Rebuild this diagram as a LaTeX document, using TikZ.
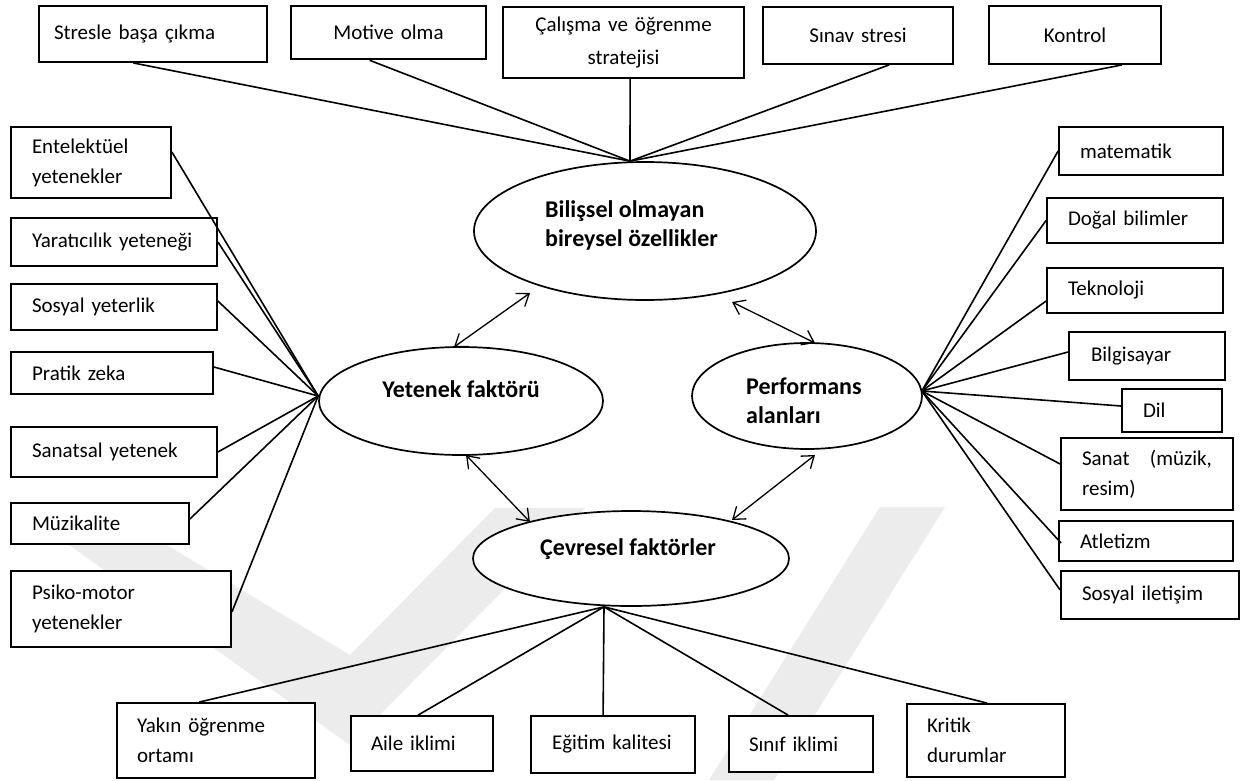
\documentclass[tikz,border=0pt]{standalone}
\usepackage{fontspec}
\setmainfont{Carlito}
\usetikzlibrary{arrows.meta,calc,shapes.geometric}
\definecolor{wm}{RGB}{236,236,236}

\begin{document}
\begin{tikzpicture}[x=1pt,y=-1pt,
  tb/.style={draw, line width=1.8pt, fill=white, rectangle, inner sep=0pt,
    align=left, font=\fontsize{21}{30}\selectfont},
  tbc/.style={tb, align=center},
  ell/.style={draw, ellipse, line width=1.7pt, fill=white, inner sep=0pt},
  lbl/.style={inner sep=0pt, align=left, font=\bfseries\fontsize{24}{29}\selectfont},
  link/.style={line width=1.6pt},
  both/.style={line width=1.3pt, {Straight Barb[length=11pt,width=16pt]}-{Straight Barb[length=11pt,width=16pt]}}
]
\useasboundingbox (0,0) rectangle (1251,780);
\fill[white] (0,0) rectangle (1251,780);

% faint background emblem
\fill[wm] (55,535) -- (150,535) -- (350,655) -- (495,508) -- (585,508) -- (350,745) -- cycle;
\fill[wm] (880,507) -- (945,507) -- (774,780) -- (709,780) -- cycle;

% central ellipses
\node[ell, minimum width=342pt, minimum height=138pt] (bil) at (645,231) {};
\node[ell, minimum width=284pt, minimum height=108pt] (yet) at (461,401) {};
\node[ell, minimum width=230pt, minimum height=106pt] (perf) at (807,396) {};
\node[ell, minimum width=316pt, minimum height=95pt] (cev) at (631,558.5) {};

\node[lbl, anchor=west] (bilt) at (545,225) {Bilişsel olmayan\\bireysel özellikler};
\node[lbl] (yett) at (461,389) {Yetenek faktörü};
\node[lbl, anchor=west] (perft) at (746,401) {Performans\\alanları};
\node[lbl] (cevt) at (628,549) {Çevresel faktörler};

% top row
\node[tb, minimum width=228pt, minimum height=56pt, text width=198pt] (stres) at (153,34) {\mbox{Stresle başa çıkma}};
\node[tbc, line width=2.6pt, minimum width=195pt, minimum height=53pt, text width=180pt] (motive) at (388.5,32.5) {Motive olma};
\node[tbc, minimum width=241pt, minimum height=71pt, text width=230pt, font=\fontsize{21}{33}\selectfont] (calisma) at (623.5,42.5) {Çalışma ve öğrenme\\stratejisi};
\node[tbc, minimum width=190pt, minimum height=57pt, text width=176pt] (sinav) at (858,35.5) {Sınav stresi};
\node[tbc, minimum width=172pt, minimum height=58pt, text width=160pt] (kontrol) at (1075,35) {Kontrol};

% left column
\node[tb, minimum width=160pt, minimum height=71pt, text width=118pt] (entel) at (91,162.5) {Entelektüel\\yetenekler};
\node[tb, minimum width=206pt, minimum height=48pt, text width=164pt] (yarat) at (114,242) {\mbox{Yaratıcılık yeteneği}};
\node[tb, minimum width=206pt, minimum height=46pt, text width=164pt] (sosyal) at (114,307) {\mbox{Sosyal yeterlik}};
\node[tb, minimum width=202pt, minimum height=42pt, text width=160pt] (pratik) at (112,373) {\mbox{Pratik zeka}};
\node[tb, minimum width=206pt, minimum height=50pt, text width=164pt] (sanatsal) at (114,452) {\mbox{Sanatsal yetenek}};
\node[tb, minimum width=178pt, minimum height=41pt, text width=136pt] (muzik) at (100,523.5) {Müzikalite};
\node[tb, minimum width=220pt, minimum height=76pt, text width=178pt] (psiko) at (121,609) {Psiko-motor\\yetenekler};

% right column
\node[tb, minimum width=164pt, minimum height=48pt, text width=122pt] (mat) at (1141,151) {matematik};
\node[tb, minimum width=176pt, minimum height=45pt, text width=134pt] (dogal) at (1135,220.5) {\mbox{Doğal bilimler}};
\node[tb, minimum width=176pt, minimum height=45pt, text width=134pt] (tekno) at (1135,290.5) {Teknoloji};
\node[tb, minimum width=156pt, minimum height=48pt, text width=112pt] (bilg) at (1147,356) {Bilgisayar};
\node[tb, minimum width=100pt, minimum height=43pt, text width=58pt] (dil) at (1172,410.5) {Dil};
\node[tb, minimum width=172pt, minimum height=72pt, text width=130pt] (sanat) at (1147,474) {Sanat\hfill(müzik,\\resim)};
\node[tb, minimum width=174pt, minimum height=40pt, text width=132pt] (atlet) at (1146,541) {Atletizm};
\node[tb, minimum width=178pt, minimum height=48pt, text width=136pt] (sosilet) at (1150,595) {\mbox{Sosyal iletişim}};

% bottom row
\node[tb, minimum width=198pt, minimum height=75pt, text width=158pt] (yakin) at (216,740.5) {Yakın öğrenme\\ortamı};
\node[tb, minimum width=142pt, minimum height=55pt, text width=102pt] (aile) at (422,743.5) {\mbox{Aile iklimi}};
\node[tb, minimum width=164pt, minimum height=57pt, text width=122pt] (egitim) at (613,744.5) {\mbox{Eğitim kalitesi}};
\node[tb, minimum width=144pt, minimum height=56pt, text width=104pt] (sinif) at (801,744) {\mbox{Sınıf iklimi}};
\node[tb, minimum width=158pt, minimum height=73pt, text width=118pt] (kritik) at (986,740.5) {Kritik\\durumlar};

% meeting points on the ellipses
\coordinate (hubB) at ($(bil.north)+(-15,0)$);
\coordinate (hubL) at ($(yet.west)+(0,-5)$);
\coordinate (hubR) at ($(perf.east)+(-1,-5)$);
\coordinate (hubC) at ($(cev.south)+(-27,0)$);

% links to the upper ellipse
\draw[link] ([xshift=95pt]stres.south west) -- (hubB);
\draw[link] ([xshift=80pt]motive.south west) -- (hubB);
\draw[link] ([xshift=128pt]calisma.south west) -- (hubB);
\draw[link] ([xshift=127pt]sinav.south west) -- (hubB);
\draw[link] ([xshift=134pt]kontrol.south west) -- (hubB);

% links to the left ellipse
\draw[link] ([yshift=10.5pt]entel.east) -- (hubL);
\draw[link] (yarat.east) -- (hubL);
\draw[link] ([yshift=6pt]sosyal.east) -- (hubL);
\draw[link] ([yshift=6pt]pratik.east) -- (hubL);
\draw[link] (sanatsal.east) -- (hubL);
\draw[link] ([yshift=4.5pt]muzik.east) -- (hubL);
\draw[link] ([yshift=-3pt]psiko.east) -- (hubL);

% links to the right ellipse
\draw[link] (mat.west) -- (hubR);
\draw[link] (dogal.west) -- (hubR);
\draw[link] ([yshift=-10.5pt]tekno.west) -- (hubR);
\draw[link] ([yshift=4pt]bilg.west) -- (hubR);
\draw[link] ([yshift=4.5pt]dil.west) -- (hubR);
\draw[link] ([yshift=10pt]sanat.west) -- (hubR);
\draw[link] ([xshift=3pt,yshift=-2pt]atlet.west) -- (hubR);
\draw[link] ([yshift=5pt]sosilet.west) -- (hubR);

% links to the lower ellipse
\draw[link] ([xshift=83pt]yakin.north west) -- (hubC);
\draw[link] ([xshift=68pt]aile.north west) -- (hubC);
\draw[link] ([xshift=73pt]egitim.north west) -- (hubC);
\draw[link] ([xshift=60pt]sinif.north west) -- (hubC);
\draw[link] ([xshift=81pt]kritik.north west) -- (hubC);

% mutual influences between the ellipses
\draw[both] ($(bil)+(-115,62)$) -- ($(yet)+(-7,-54)$);
\draw[both] ($(bil)+(87,71)$) -- ($(perf)+(8,-53)$);
\draw[both] ($(yet)+(5,54)$) -- ($(cev)+(-101,-36.5)$);
\draw[both] ($(perf)+(8,59)$) -- ($(cev)+(101,-38.5)$);
\end{tikzpicture}
\end{document}
